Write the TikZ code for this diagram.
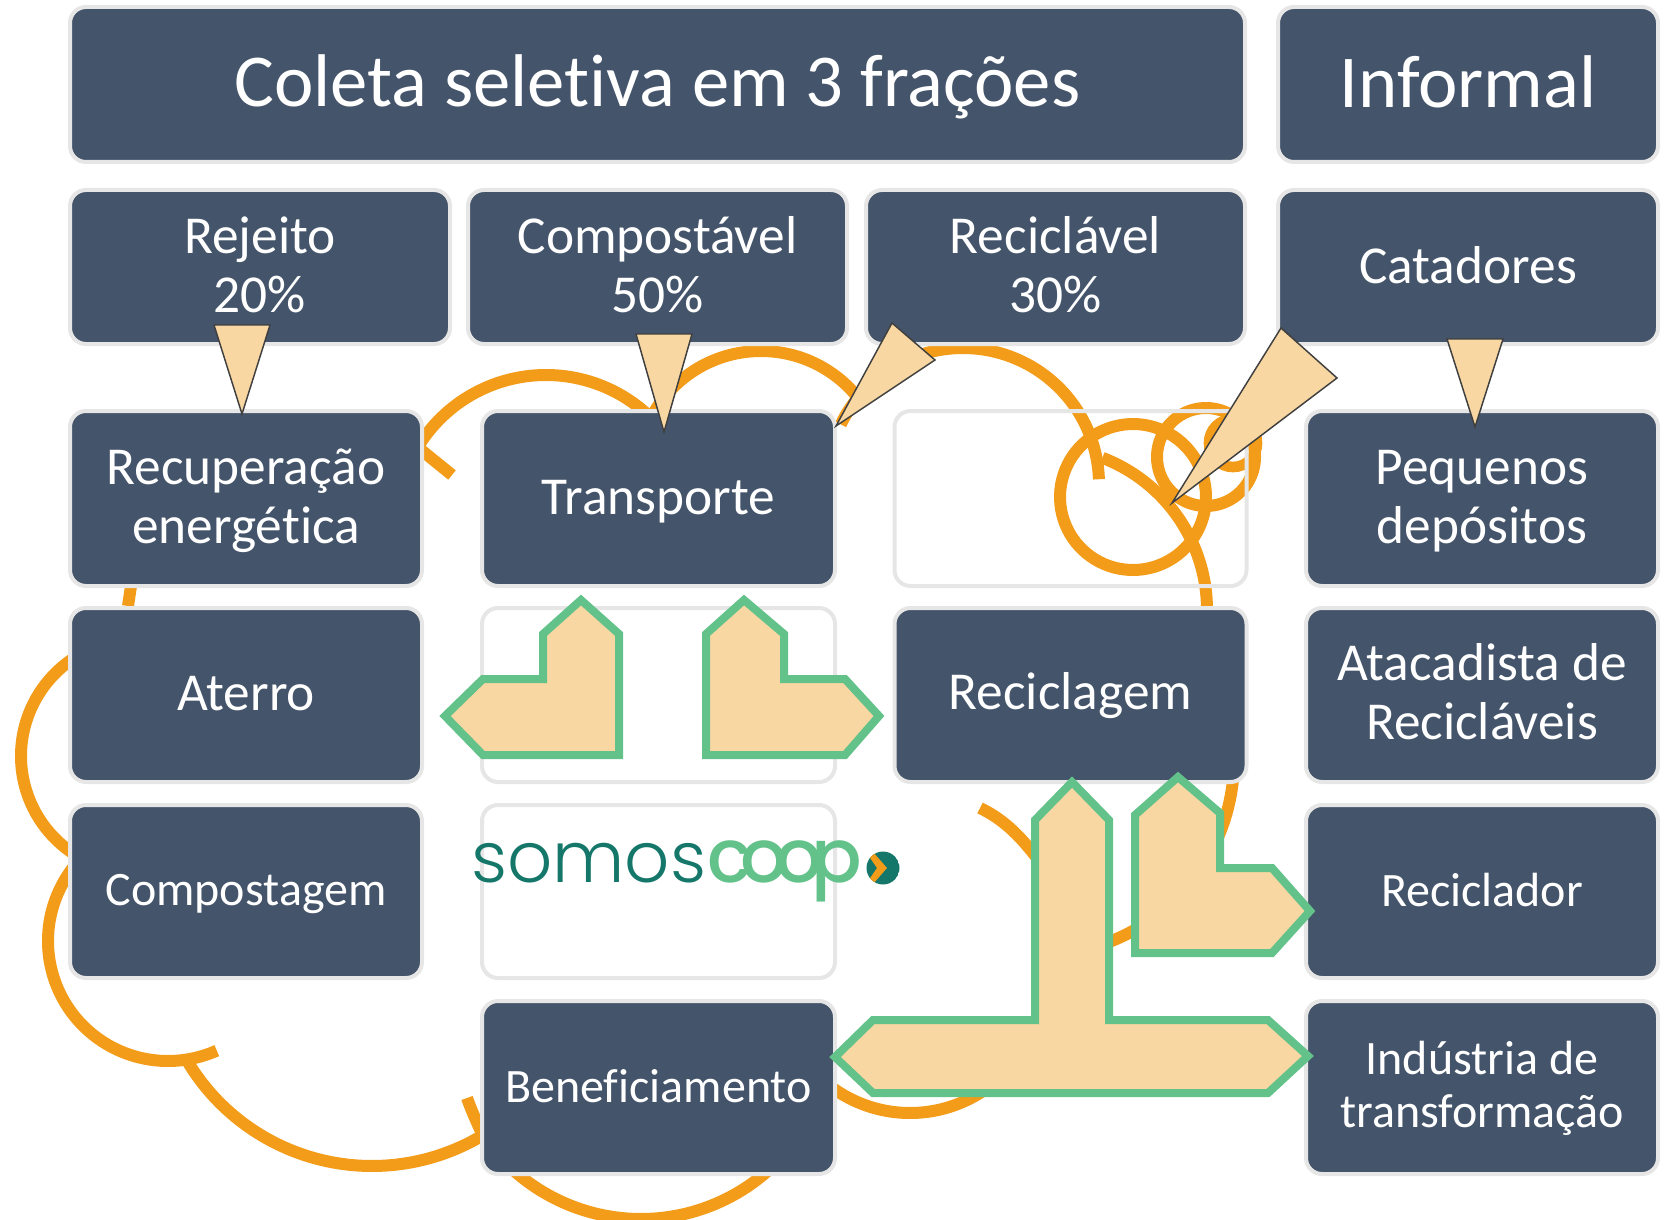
\documentclass[tikz,border=0pt]{standalone}
\usepackage{fontspec}
\setmainfont[Ligatures=NoCommon]{Carlito}
\newfontfamily\poplight{Poppins Light}
\newfontfamily\popmed{Poppins Medium}
\definecolor{slatebox}{HTML}{44546A}
\definecolor{edgegrey}{HTML}{E7E6E6}
\definecolor{orangearc}{HTML}{F39C1A}
\definecolor{greenedge}{HTML}{63C18A}
\definecolor{peachfill}{HTML}{F8D7A2}
\definecolor{tealdark}{HTML}{14776A}
\tikzset{
  x=0.75pt,y=-0.75pt,
  boxbase/.style={rectangle,rounded corners=12pt,draw=edgegrey,line width=3pt,inner sep=0pt},
  filledbox/.style={boxbase,fill=slatebox},
  emptybox/.style={boxbase},
  boxtext/.style={inner sep=0pt,align=center,text=white},
  orangeline/.style={draw=orangearc,line width=9pt,line cap=butt},
  tri/.style={draw=black!75,line width=1.1pt,fill=peachfill,line join=miter},
  greenarrow/.style={draw=greenedge,line width=6pt,fill=peachfill,line join=miter,miter limit=10},
}
% style, name, x1,y1,x2,y2
\newcommand\bx[6]{%
  \pgfmathsetmacro\bxw{(#5-#3)*0.75}%
  \pgfmathsetmacro\bxh{(#6-#4)*0.75}%
  \node[#1,minimum width=\bxw pt,minimum height=\bxh pt] (#2) at ({(#3+#5)/2},{(#4+#6)/2}) {};%
}
% box name, px down, size, leading, text
\newcommand\tx[5]{%
  \node[boxtext,font={\fontsize{#3}{#4}\selectfont},yshift=#2*-0.75pt] (#1-t) at (#1.center) {#5};%
}
\newcommand\oarc[5]{%
  \draw[orangeline] plot[domain=#4:#5,samples=90] ({#1+#3*cos(\x)},{#2+#3*sin(\x)});%
}
\begin{document}
\begin{tikzpicture}
\useasboundingbox (0,0) rectangle (1671,1220);
\clip (0,0) rectangle (1671,1220);
% orange arcs behind the boxes
\oarc{546}{525}{150}{-150}{-40}
\draw[orangeline] (415,445) -- (452,475);
\oarc{761}{475}{124}{-150}{-40}
\oarc{963}{484}{136}{-154}{-2}
\oarc{1133}{497}{73}{0}{360}
\oarc{1206}{457}{49}{0}{360}
\draw[draw=orangearc,line width=8pt] (1233,443) circle[radius=24];
\oarc{1044}{610}{163}{-69}{5}
\oarc{1039}{760}{195}{-10}{80}
\draw[orangeline] (980,808) .. controls (1005,820) and (1022,838) .. (1040,862);
\oarc{910}{981}{132}{130}{40}
\oarc{641}{1028}{191}{140}{40}
\draw[orangeline] (131,586) -- (128,606);
\oarc{138}{756}{117}{-120}{-240}
\oarc{168}{941}{120}{-140}{-294}
\oarc{372}{951}{215}{150.5}{50}
\draw[orangeline] (467,1098) .. controls (472,1112) and (480,1130) .. (490,1150);
% header row
\bx{filledbox}{coleta}{70}{7}{1245}{162}
\bx{filledbox}{informal}{1278}{7}{1658}{162}
% fractions row
\bx{filledbox}{rejeito}{70}{190}{450}{344}
\bx{filledbox}{compostavel}{468}{190}{847}{344}
\bx{filledbox}{reciclavel}{866}{190}{1245}{344}
\bx{filledbox}{catadores}{1278}{190}{1658}{344}
% column boxes
\bx{filledbox}{recuperacao}{70}{411}{422}{586}
\bx{filledbox}{transporte}{482}{411}{835}{586}
\bx{emptybox}{vazio}{894.5}{411}{1246.5}{586}
\bx{filledbox}{pequenos}{1306}{411}{1658}{586}
\bx{filledbox}{aterro}{70}{608}{422}{782}
\bx{emptybox}{vazioB}{482}{608}{835}{782}
\bx{filledbox}{reciclagem}{894.5}{608}{1246.5}{782}
\bx{filledbox}{atacadista}{1306}{608}{1658}{782}
\bx{filledbox}{compostagem}{70}{805}{422}{978}
\bx{emptybox}{logobox}{482}{805}{835}{978}
\bx{filledbox}{reciclador}{1306}{805}{1658}{978}
\bx{filledbox}{beneficiamento}{482}{1001}{835}{1174}
\bx{filledbox}{industria}{1306}{1001}{1658}{1174}
% box texts
\tx{coleta}{2}{56}{64}{Coleta seletiva em 3 frações}
\tx{informal}{-3}{56}{64}{Informal}
\tx{rejeito}{-2}{40}{44}{Rejeito\\20\%}
\tx{compostavel}{-2}{40}{44}{Compostável\\50\%}
\tx{reciclavel}{-2}{40}{44}{Reciclável\\30\%}
\tx{catadores}{-2}{40}{44}{Catadores}
\tx{recuperacao}{2}{40}{44}{Recuperação\\energética}
\tx{transporte}{3}{40}{44}{Transporte}
\tx{pequenos}{3}{40}{44}{Pequenos\\depósitos}
\tx{aterro}{-1}{40}{44}{Aterro}
\tx{reciclagem}{1}{40}{44}{Reciclagem}
\tx{atacadista}{-3}{40}{44}{Atacadista de\\Recicláveis}
\tx{compostagem}{3}{36}{40}{Compostagem}
\tx{reciclador}{-1}{36}{40}{Reciclador}
\tx{beneficiamento}{-1}{36}{40}{Beneficiamento}
\tx{industria}{1}{36}{40}{Indústria de\\transformação}
% logo
\node[text=tealdark,inner sep=0pt,anchor=base west] (logoA) at (471,882) {\poplight\fontsize{53}{56}\selectfont somos};
\node[text=greenedge,inner sep=0pt,anchor=base west] (logoB) at (707,882) {\popmed\fontsize{56}{56}\selectfont c\kern-9pt o\kern-9pt o\kern-9pt p};
\begin{scope}
\clip (883,868) circle[radius=16.5];
\fill[tealdark] (883,868) circle[radius=16.5];
\fill[orangearc] (866,852) -- (873,852) -- (887,868) -- (873,884) -- (866,884) -- (877,868) -- cycle;
\end{scope}
% peach callouts
\draw[tri] (214,325) -- (270,325) -- (242,414) -- cycle;
\draw[tri] (636,334) -- (692,334) -- (664,432) -- cycle;
\draw[tri] (892,323) -- (935,360) -- (836,426) -- cycle;
\draw[tri] (1281,328) -- (1337,378) -- (1172,503) -- cycle;
\draw[tri] (1447,339) -- (1503,339) -- (1475,427) -- cycle;
% green block arrows
\draw[greenarrow] (581,600) -- (619,634) -- (619,755) -- (483,755) -- (445,716) -- (483,679) -- (543,679) -- (543,634) -- cycle;
\draw[greenarrow] (744,600) -- (784,634) -- (784,679) -- (845,679) -- (879,716) -- (845,755) -- (706,755) -- (706,634) -- cycle;
\draw[greenarrow] (1178,777) -- (1220,813) -- (1220,868) -- (1272,868) -- (1310,911) -- (1272,953) -- (1135,953) -- (1135,815) -- cycle;
\draw[greenarrow] (1072,782) -- (1109,820) -- (1109,1020) -- (1268,1020) -- (1308,1056) -- (1268,1093) -- (873,1093) -- (835,1057) -- (873,1020) -- (1035,1020) -- (1035,820) -- cycle;
\end{tikzpicture}
\end{document}
